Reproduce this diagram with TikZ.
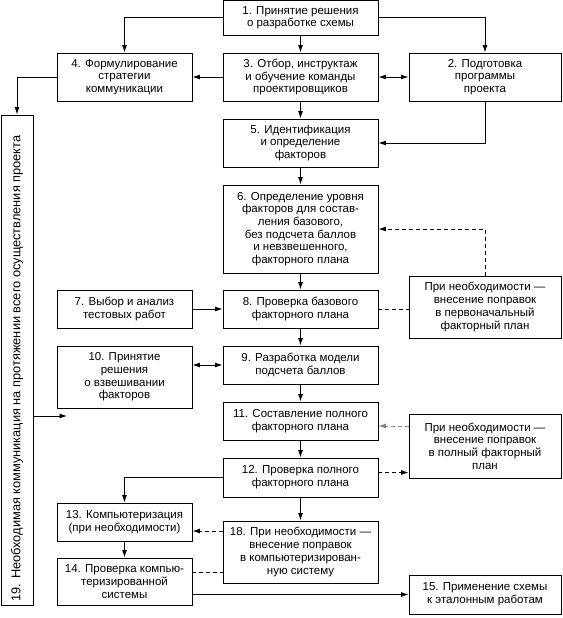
\documentclass[tikz,border=0pt]{standalone}
\usepackage{fontspec}
\setmainfont{Liberation Sans}
\usetikzlibrary{arrows.meta}
\tikzset{
  box/.style={draw, line width=0.9pt, inner sep=0pt, align=center,
    font=\fontsize{11.5}{12.7}\selectfont},
  arr/.style={line width=0.9pt, -{Latex[length=7.5pt,width=5pt]}},
  darr/.style={line width=0.9pt, {Latex[length=7.5pt,width=5pt]}-{Latex[length=7.5pt,width=5pt]}},
  dsh/.style={line width=0.9pt, dash pattern=on 4pt off 3pt},
}
\begin{document}
\begin{tikzpicture}[x=1pt,y=-1pt]
\useasboundingbox (0,0) rectangle (562,618);
\node[box, minimum width=155pt, minimum height=34.5pt] (b1) at (300.5,17.75) {1. Принятие решения\\о разработке схемы};
\node[box, minimum width=135pt, minimum height=48pt] (b4) at (124.5,77) {4. Формулирование\\стратегии\\коммуникации};
\node[box, minimum width=155pt, minimum height=48pt] (b3) at (300.5,77) {3. Отбор, инструктаж\\и обучение команды\\проектировщиков};
\node[box, minimum width=152pt, minimum height=48pt] (b2) at (485,77) {2. Подготовка\\программы\\проекта};
\node[box, minimum width=155pt, minimum height=48pt] (b5) at (300.5,143) {5. Идентификация\\и определение\\факторов};
\node[box, minimum width=155pt, minimum height=88pt] (b6) at (300.5,229) {6. Определение уровня\\факторов для состав-\\ления базового,\\без подсчета баллов\\и невзвешенного,\\факторного плана};
\node[box, minimum width=155pt, minimum height=38pt] (b8) at (300.5,309) {8. Проверка базового\\факторного плана};
\node[box, minimum width=135pt, minimum height=38pt] (b7) at (124.5,309) {7. Выбор и анализ\\тестовых работ};
\node[box, minimum width=152pt, minimum height=62pt] (n1) at (485,307) {При необходимости —\\внесение поправок\\в первоначальный\\факторный план};
\node[box, minimum width=135pt, minimum height=62pt] (b10) at (124.5,377) {10. Принятие\\решения\\о взвешивании\\факторов};
\node[box, minimum width=155pt, minimum height=38pt] (b9) at (300.5,365) {9. Разработка модели\\подсчета баллов};
\node[box, minimum width=155pt, minimum height=38pt] (b11) at (300.5,421) {11. Составление полного\\факторного плана};
\node[box, minimum width=152pt, minimum height=64pt] (n2) at (485,446) {При необходимости —\\внесение поправок\\в полный факторный\\план};
\node[box, minimum width=155pt, minimum height=39pt] (b12) at (300.5,477.5) {12. Проверка полного\\факторного плана};
\node[box, minimum width=135pt, minimum height=38pt] (b13) at (124.5,522) {13. Компьютеризация\\(при необходимости)};
\node[box, minimum width=155pt, minimum height=62pt] (b18) at (300.5,552) {18. При необходимости —\\внесение поправок\\в компьютеризирован-\\ную систему};
\node[box, minimum width=135pt, minimum height=47pt] (b14) at (124.5,581.5) {14. Проверка компью-\\теризированной\\системы};
\node[box, minimum width=152pt, minimum height=39pt] (b15) at (485,594.5) {15. Применение схемы\\к эталонным работам};
\node[box, minimum width=490pt, minimum height=32pt, rotate=90, font=\fontsize{12.8}{14}\selectfont] (b19) at (17,360) {19. Необходимая коммуникация на протяжении всего осуществления проекта\hspace*{17pt}};
\coordinate (c19) at (67,416);

\draw[arr] (b1.west) -| (b4.north);
\draw[arr] (b1.east) -| (b2.north);
\draw[arr] (b1.south) -- (b3.north);
\draw[arr] (b3.west) -- (b4.east);
\draw[darr] (b3.east) -- (b2.west);
\draw[arr] (b4.west) -| (b19.east);
\draw[arr] (b3.south) -- (b5.north);
\draw[arr] (b2.south) |- (b5.east);
\draw[arr] (b5.south) -- (b6.north);
\draw[arr] (b6.south) -- (b8.north);
\draw[dsh, -{Latex[length=7.5pt,width=5pt]}] (n1.north) |- (b6.east);
\draw[dsh] (b8.east) -- (b8.east -| n1.west);
\draw[arr] (b7.east) -- (b8.west);
\draw[arr] (b8.south) -- (b9.north);
\draw[darr] (b9.west -| b10.east) -- (b9.west);
\draw[arr] (b19.south |- c19) -- (c19);
\draw[arr] (b9.south) -- (b11.north);
\draw[dsh, gray, -{Latex[length=7.5pt,width=5pt]}] ([yshift=-5pt]b11.east -| n2.west) -- ([yshift=-5pt]b11.east);
\draw[arr] (b11.south) -- (b12.north);
\draw[dsh, -{Latex[length=7.5pt,width=5pt]}] ([yshift=5pt]b12.east) -- ([yshift=5pt]b12.east -| n2.west);
\draw[arr] (b12.west) -| (b13.north);
\draw[arr] (b12.south) -- (b18.north);
\draw[dsh, -{Latex[length=7.5pt,width=5pt]}] ([yshift=-9pt]b13.east -| b18.west) -- ([yshift=-9pt]b13.east);
\draw[arr] (b13.south) -- (b14.north);
\draw[dsh] ([yshift=9.5pt]b14.east) -- ([yshift=9.5pt]b14.east -| b18.west);
\draw[arr] (b15.west -| b14.east) -- (b15.west);
\end{tikzpicture}
\end{document}
